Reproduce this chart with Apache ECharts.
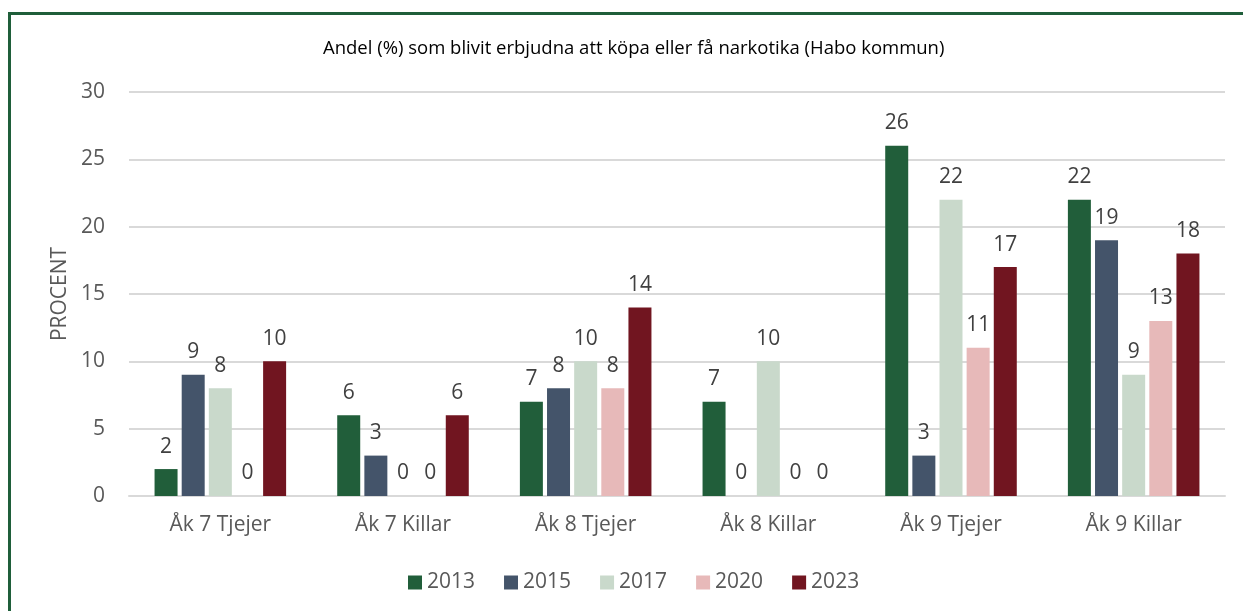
<!DOCTYPE html>
<html>
<head>
<meta charset="utf-8">
<title>Andel som blivit erbjudna narkotika</title>
<script src="https://cdn.jsdelivr.net/npm/echarts@6/dist/echarts.min.js"></script>
<style>
  html, body { margin: 0; padding: 0; background: #fff; }
  #chart { width: 1243px; height: 611px; }
  #frame {
    position: absolute; left: 8px; top: 12px; width: 1300px; height: 700px;
    border: 3px solid #1f5e3a; pointer-events: none;
  }
</style>
</head>
<body>
<div id="chart"></div>
<div id="frame"></div>
<script>
  var categories = ['Åk 7 Tjejer', 'Åk 7 Killar', 'Åk 8 Tjejer', 'Åk 8 Killar', 'Åk 9 Tjejer', 'Åk 9 Killar'];
  var years = ['2013', '2015', '2017', '2020', '2023'];
  var v2013 = [2, 6, 7, 7, 26, 22];
  var v2015 = [9, 3, 8, 0, 3, 19];
  var v2017 = [8, 0, 10, 10, 22, 9];
  var v2020 = [0, 0, 8, 0, 11, 13];
  var v2023 = [10, 6, 14, 0, 17, 18];
  var colors = ['#215e3a', '#44546a', '#c9d9cb', '#e7b9b9', '#711520'];

  var font = 'Open Sans';
  var chart = echarts.init(document.getElementById('chart'));
  var allValues = [v2013, v2015, v2017, v2020, v2023];

  var option = {
    animation: false,
    color: colors,
    title: {
      text: 'Andel (%) som blivit erbjudna att köpa eller få narkotika (Habo kommun)',
      left: 318,
      top: 34,
      textStyle: { fontFamily: font, fontSize: 18.5, fontWeight: 'normal', color: '#000' }
    },
    legend: {
      data: years,
      bottom: 13,
      left: 403,
      icon: 'rect',
      itemWidth: 14,
      itemHeight: 14,
      itemGap: 29,
      textStyle: { fontFamily: font, fontSize: 21, color: '#595959' }
    },
    grid: { left: 129, right: 18, top: 92, bottom: 115 },
    xAxis: {
      type: 'category',
      data: categories,
      axisTick: { show: false },
      axisLine: { lineStyle: { color: '#d9d9d9', width: 2 } },
      axisLabel: { fontFamily: font, fontSize: 21, color: '#595959', margin: 19 }
    },
    yAxis: {
      type: 'value',
      min: 0,
      max: 30,
      interval: 5,
      name: 'PROCENT',
      nameLocation: 'middle',
      nameGap: 58,
      nameTextStyle: { fontFamily: font, fontSize: 21, color: '#595959' },
      axisLabel: { fontFamily: font, fontSize: 21, color: '#595959', margin: 24 },
      splitLine: { lineStyle: { color: '#d9d9d9', width: 2 } }
    },
    series: years.map(function (y, i) {
      return {
        name: y,
        type: 'bar',
        data: allValues[i],
        barWidth: 23,
        barGap: '18%',
        label: {
          show: true,
          position: 'top',
          distance: 12,
          fontFamily: font,
          fontSize: 21,
          color: '#404040'
        }
      };
    })
  };
  chart.setOption(option);
</script>
</body>
</html>
